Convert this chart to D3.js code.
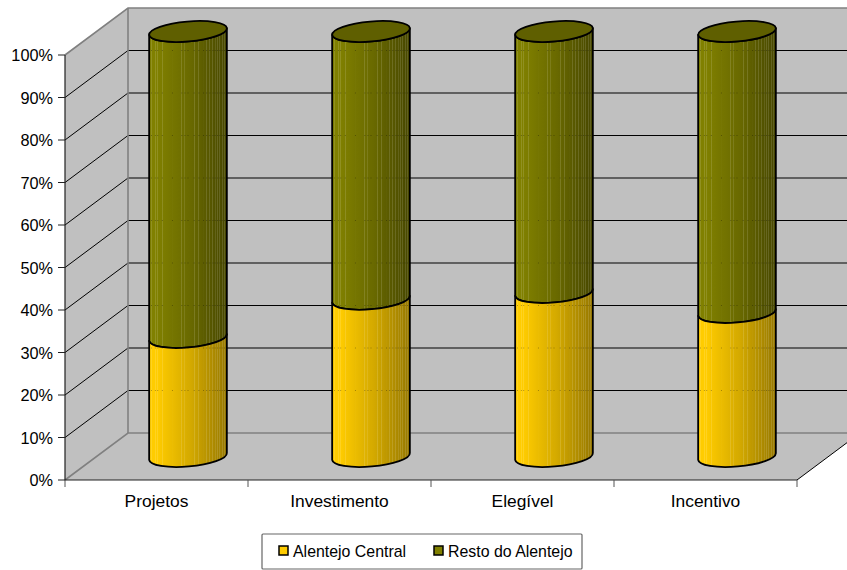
<!DOCTYPE html>
<html><head><meta charset="utf-8"><script src="https://cdn.jsdelivr.net/npm/d3@7"></script>
<style>html,body{margin:0;padding:0;background:#fff}svg{display:block}text{font-family:"Liberation Sans",Arial,sans-serif;font-size:16.3px;fill:#000}</style>
</head><body><div id="c"></div><script>
const categories=["Projetos","Investimento","Elegível","Incentivo"];
const alentejoCentral=[28,37,38.6,33.9];
const restoAlentejo=[72,63,61.4,66.1];
const seriesNames=["Alentejo Central","Resto do Alentejo"];
const yTicks=[0,10,20,30,40,50,60,70,80,90,100];

const W=847,H=570;
const svg=d3.select("#c").append("svg").attr("width",W).attr("height",H);
const x=d3.scaleBand().domain(categories).range([65,797]);
const y=d3.scaleLinear().domain([0,100]).range([480,55]);
const DX=63,DY=-47;
const defs=svg.append("defs");
const clip=defs.append("clipPath").attr("id","pg");clip.append("rect").attr("width",W).attr("height",H);
const root=svg.append("g").attr("clip-path","url(#pg)");
const stripes=[.03,.08,.11,.17,.3,.42,.46,.5,.58,.64,.7,.74,.78,.82,.85,.88,.91,.94,.97];
function grad(id,base,mid,dark){
  const g=defs.append("linearGradient").attr("id",id);
  const c=d3.scaleLinear().domain([0,.1,.55,1]).range([base,base,mid,dark]);
  const stops=[];
  d3.range(0,1.0001,.05).forEach(t=>stops.push([t,c(t)]));
  stripes.forEach(t=>{const lc=d3.interpolateRgb(c(t),"#fff")(.13);stops.push([t-.0055,c(t)],[t-.005,lc],[t+.005,lc],[t+.0055,c(t)]);});
  stops.sort((a,b)=>a[0]-b[0]).forEach(s=>g.append("stop").attr("offset",s[0]).attr("stop-color",s[1]));
}
grad("gy","#ffcc00","#d2a800","#967800");
grad("go","#808000","#686800","#474700");

const wall="#c0c0c0",edge="#808080";
const xL=x.range()[0],xR=x.range()[1],y0=y(0),yT=y(100);
const poly=p=>root.append("polygon").attr("points",p.map(d=>d.join(",")).join(" "));
poly([[xL,y0],[xL+DX,y0+DY],[xR+DX,y0+DY],[xR,y0]]).attr("fill",wall);
poly([[xL,y0],[xL+DX,y0+DY],[xL+DX,yT+DY],[xL,yT]]).attr("fill",wall);
poly([[xL+DX,y0+DY],[xL+DX,yT+DY],[xR+DX,yT+DY],[xR+DX,y0+DY]]).attr("fill",wall);
yTicks.slice(1,-1).forEach(t=>{
  root.append("path").attr("d",`M${xL},${y(t)}L${xL+DX},${y(t)+DY}L${xR+DX},${y(t)+DY}`).attr("fill","none").attr("stroke","#000").attr("stroke-width",1);
});
root.append("path").attr("d",`M${xL},${yT}L${xL+DX},${yT+DY}L${xR+DX},${yT+DY}`).attr("fill","none").attr("stroke",edge).attr("stroke-width",1.6);
root.append("path").attr("d",`M${xL},${y0}L${xL+DX},${y0+DY}L${xR+DX},${y0+DY}`).attr("fill","none").attr("stroke",edge).attr("stroke-width",1.6);
root.append("path").attr("d",`M${xL+DX},${yT+DY}V${y0+DY}`).attr("fill","none").attr("stroke",edge).attr("stroke-width",1.6);
root.append("path").attr("d",`M${xR},${y0}L${xR+DX},${y0+DY}`).attr("fill","none").attr("stroke","#000").attr("stroke-width",1);

const RX=39,RY=10,TILT=-5*Math.PI/180;
const cx=c=>x(c)+x.bandwidth()/2+DX/2;
const cy=v=>y(v)+DY/2;
const hx=RX*Math.cos(TILT),hy=RX*Math.sin(TILT);
function segment(c,v0,v1,fill,top){
  const X=cx(c),a=cy(v0),b=cy(v1);
  const g=root.append("g");
  const d=`M${X-hx},${a-hy}A${RX},${RY} -5 0 0 ${X+hx},${a+hy}L${X+hx},${b+hy}A${RX},${RY} -5 0 1 ${X-hx},${b-hy}Z`;
  g.append("path").attr("d",d).attr("fill",`url(#${fill})`).attr("stroke","#000").attr("stroke-width",1.8).attr("stroke-linejoin","round");
  if(top) g.append("ellipse").attr("rx",RX).attr("ry",RY).attr("transform",`translate(${X},${b}) rotate(-5)`).attr("fill","#5f5f00").attr("stroke","#000").attr("stroke-width",1.8);
}
categories.forEach((c,i)=>{
  const a=alentejoCentral[i],b=restoAlentejo[i];
  segment(c,a,a+b,"go",true);
  segment(c,0,a,"gy",false);
  yTicks.slice(1,-1).forEach(t=>{
    const gy=y(t)+DY;
    const X=cx(c);
    if(gy<cy(100)+6) return;
    root.append("path").attr("d",stripes.map(s=>`M${X-hx+s*2*hx-.5},${gy}h1`).join("")).attr("stroke","#000").attr("stroke-opacity",.3).attr("stroke-width",1);
  });
});

svg.append("path").attr("d",`M${xL},${yT}V${y0}H${xR}`).attr("fill","none").attr("stroke","#222").attr("stroke-width",1.2);
yTicks.forEach(t=>{
  svg.append("line").attr("x1",xL-7).attr("x2",xL).attr("y1",y(t)).attr("y2",y(t)).attr("stroke","#222");
  svg.append("text").attr("x",53).attr("y",y(t)+6.3).attr("text-anchor","end").text(t+"%");
});
[xL,...categories.map(c=>x(c)+x.bandwidth())].forEach(v=>{
  svg.append("line").attr("x1",v).attr("x2",v).attr("y1",y0).attr("y2",y0+7).attr("stroke","#555");
});
categories.forEach(c=>svg.append("text").attr("x",x(c)+x.bandwidth()/2).attr("y",507).attr("text-anchor","middle").style("font-size","17.4px").text(c));

svg.append("rect").attr("x",262).attr("y",534).attr("width",320).attr("height",35).attr("fill","#fff").attr("stroke","#666").attr("stroke-width",1.2).attr("rx",1);
[[279,"#ffcc00",293],[434,"#808000",448]].forEach((l,i)=>{
  svg.append("rect").attr("x",l[0]).attr("y",546).attr("width",9).attr("height",9).attr("fill",l[1]).attr("stroke","#000").attr("stroke-width",1.5);
  svg.append("text").attr("x",l[2]).attr("y",557).style("font-size","15.9px").text(seriesNames[i]);
});
</script></body></html>
